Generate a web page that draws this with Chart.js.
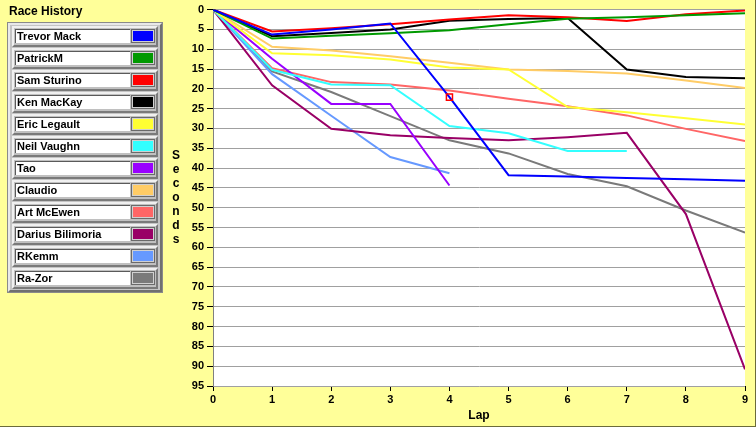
<!DOCTYPE html>
<html lang="en">
<head>
  <meta charset="UTF-8" />
  <title>Race History</title>
  <script src="https://cdn.jsdelivr.net/npm/chart.js"></script>
  <style>
    html, body { margin: 0; padding: 0; }
    body { width: 756px; height: 427px; background: #ffff99; position: relative; overflow: hidden; font-family: 'Liberation Sans', Arial, sans-serif; }
    #chart { position: absolute; left: 0; top: 0; }
    #frame { position: absolute; left: 0; top: 0; width: 756px; height: 427px; box-sizing: border-box; border-right: 1px solid #6b6b3a; border-bottom: 1px solid #6b6b3a; pointer-events: none; }
    #legendTitle { position: absolute; left: 9px; top: 4px; font-weight: bold; font-size: 12px; color: #000; }
    #panel { position: absolute; left: 8px; top: 23px; width: 154px; height: 269px; box-sizing: border-box; background: #c4c4c4;
             border: 2px solid; border-color: #e8e8e8 #707070 #707070 #e8e8e8; box-shadow: 0 0 0 1px #8a8a8a; }
    .row { position: absolute; left: 12px; width: 146px; height: 21px; box-sizing: border-box; background: #c0c0c0;
           border: 2px solid; border-color: #f0f0f0 #7a7a7a #7a7a7a #f0f0f0; }
    .name { position: absolute; left: 15px; width: 115px; height: 14px; box-sizing: border-box; background: #fff;
            border-top: 1px solid #5a5a5a; border-left: 1px solid #5a5a5a; font-weight: bold; font-size: 11px; line-height: 13px; padding-left: 1px; white-space: nowrap; overflow: hidden; }
    .swatch { position: absolute; left: 131px; width: 24px; height: 14px; box-sizing: border-box; border: 1px solid #6a6a6a; box-shadow: inset 0 0 0 1px #d0d0d0; }
    #ytitle { position: absolute; left: 168px; top: 148px; width: 16px; text-align: center; font-weight: bold; font-size: 12px; line-height: 14px; }
  </style>
</head>
<body>
  <canvas id="chart" width="756" height="427"></canvas>
  <div id="legendTitle">Race History</div>
  <div id="panel"></div>
  <div id="legendRows"></div>
  <div id="ytitle"></div>
  <div id="frame"></div>

  <script>
    // laps 0..9, gap in seconds behind the leader (null = did not run that lap)
    const laps = [0, 1, 2, 3, 4, 5, 6, 7, 8, 9];
    const drivers = ['Trevor Mack', 'PatrickM', 'Sam Sturino', 'Ken MacKay', 'Eric Legault', 'Neil Vaughn',
                     'Tao', 'Claudio', 'Art McEwen', 'Darius Bilimoria', 'RKemm', 'Ra-Zor'];
    const colors = ['#0000ff', '#009900', '#ff0000', '#000000', '#ffff33', '#33ffff',
                    '#9900ff', '#ffcc66', '#ff6666', '#990066', '#6699ff', '#7a7a7a'];

    const trevorMack = [0, 6.3, 5.0, 3.5, 22.1, 41.8, 42.1, 42.5, 42.8, 43.2];
    const patrickM   = [0, 7.3, 6.6, 6.0, 5.2, 3.7, 2.3, 1.9, 1.4, 0.9];
    const samSturino = [0, 5.5, 4.7, 3.7, 2.5, 1.4, 1.9, 2.9, 1.2, 0.2];
    const kenMacKay  = [0, 6.7, 5.9, 5.0, 2.8, 2.4, 2.1, 15.1, 17.0, 17.3];
    const ericLegault = [0, 11.0, 11.5, 12.6, 14.6, 15.1, 24.6, 25.9, 27.4, 29.0];
    const neilVaughn = [0, 15.2, 18.9, 19.1, 29.4, 31.2, 35.7, 35.7, null, null];
    const tao        = [0, 12.4, 23.8, 23.8, 44.4, null, null, null, null, null];
    const claudio    = [0, 9.4, 10.3, 11.8, 13.4, 15.1, 15.5, 16.1, 17.9, 19.8];
    const artMcEwen  = [0, 14.8, 18.3, 18.9, 20.4, 22.5, 24.4, 26.7, 30.1, 33.2];
    const darius     = [0, 19.1, 30.1, 31.7, 32.4, 33.0, 32.2, 31.1, 51.6, 90.8];
    const rKemm      = [0, 16.3, 26.8, 37.2, 41.3, null, null, null, null, null];
    const raZor      = [0, 15.6, 20.8, 26.9, 33.0, 36.3, 41.5, 44.6, 50.7, 56.3];

    const series = [trevorMack, patrickM, samSturino, kenMacKay, ericLegault, neilVaughn,
                    tao, claudio, artMcEwen, darius, rKemm, raZor];

    // legend panel
    const rows = document.getElementById('legendRows');
    drivers.forEach((name, i) => {
      const top = 22 * i;
      rows.insertAdjacentHTML('beforeend',
        '<div class="row" style="top:' + (26 + top) + 'px"></div>' +
        '<div class="name" style="top:' + (29 + top) + 'px">' + name + '</div>' +
        '<div class="swatch" style="top:' + (29 + top) + 'px;background:' + colors[i] + '"></div>');
    });

    // stacked axis title
    document.getElementById('ytitle').innerHTML = 'Seconds'.split('').map(c => '<div>' + c + '</div>').join('');

    const plotBg = {
      id: 'plotBg',
      beforeDraw(chart) {
        const a = chart.chartArea, ctx = chart.ctx;
        ctx.save();
        ctx.fillStyle = '#ffffff';
        ctx.fillRect(a.left, a.top, a.right - a.left, a.bottom - a.top);
        ctx.restore();
      }
    };

    const tickFont = { family: "'Liberation Sans', Arial, sans-serif", size: 11, weight: 'bold' };

    new Chart(document.getElementById('chart'), {
      type: 'line',
      data: {
        labels: laps,
        datasets: series.map((vals, i) => ({
          label: drivers[i],
          data: vals.map((v, j) => ({ x: laps[j], y: v })),
          borderColor: colors[i],
          backgroundColor: colors[i],
          borderWidth: 2,
          tension: 0,
          spanGaps: false,
          pointRadius: i === 0 ? vals.map((v, j) => j === 4 ? 4.3 : 0) : 0,
          pointStyle: 'rect',
          pointBorderColor: '#ff0000',
          pointBackgroundColor: 'rgba(0,0,0,0)',
          pointBorderWidth: 1.5
        }))
      },
      options: {
        responsive: false,
        devicePixelRatio: 1,
        animation: false,
        layout: { padding: { left: 160, right: 11, top: 9, bottom: 0 } },
        plugins: { legend: { display: false }, tooltip: { enabled: false } },
        scales: {
          x: {
            type: 'linear', min: 0, max: 9,
            ticks: { stepSize: 1, color: '#000', font: tickFont, padding: 2 },
            grid: { drawOnChartArea: false, drawTicks: true, tickLength: 5, tickColor: '#000' },
            border: { display: false },
            title: { display: true, text: 'Lap', color: '#000', font: { family: tickFont.family, size: 12, weight: 'bold' }, padding: { top: 2, bottom: 4 } },
            afterFit(s) { s.height = 41; }
          },
          y: {
            reverse: true, min: 0, max: 95,
            ticks: { stepSize: 5, color: '#000', font: tickFont, padding: 3 },
            grid: { color: '#a0a0a0', tickColor: '#000', tickLength: 6 },
            border: { display: true, color: '#808080', width: 1 },
            afterFit(s) { s.width = 53; }
          }
        }
      },
      plugins: [plotBg]
    });
  </script>
</body>
</html>
